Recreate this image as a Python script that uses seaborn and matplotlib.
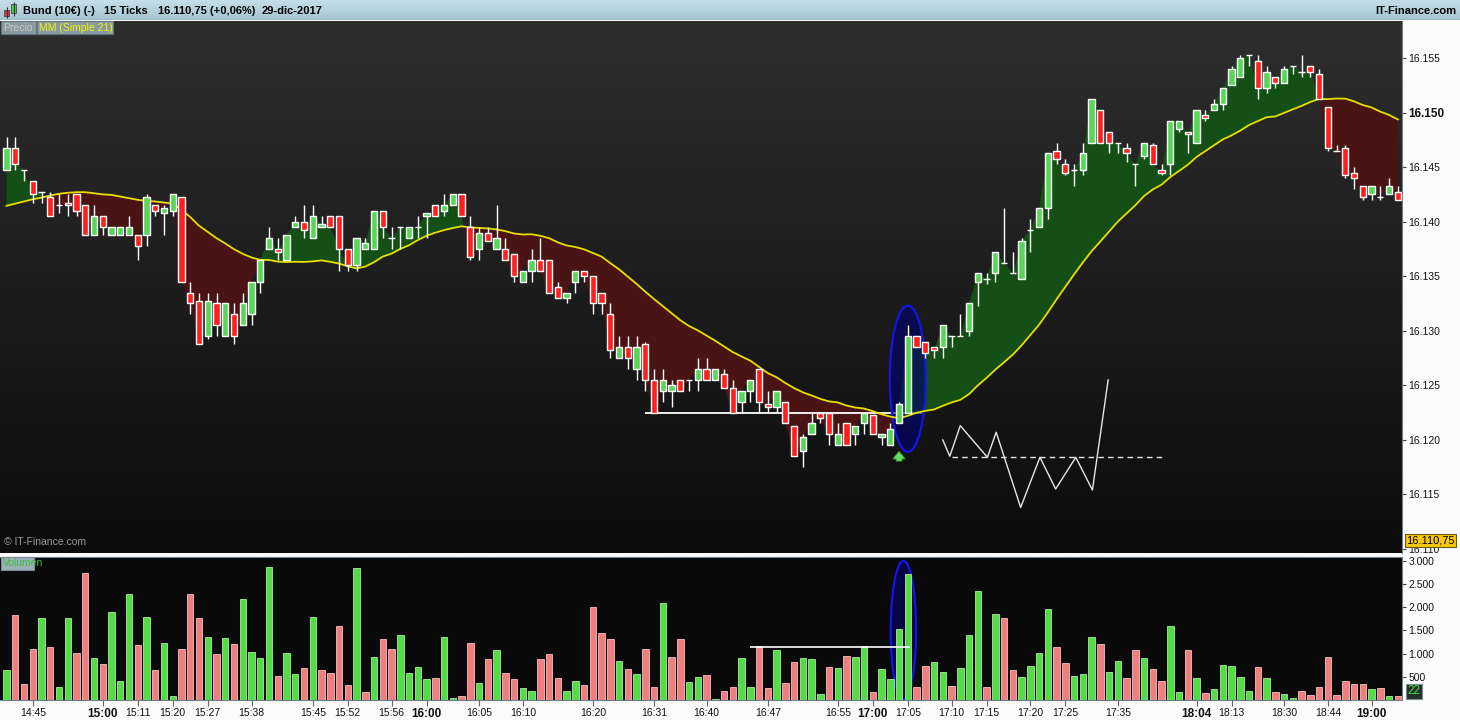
import numpy as np
import pandas as pd
import matplotlib
matplotlib.use("Agg")
import matplotlib.pyplot as plt
import seaborn as sns
from matplotlib.patches import Ellipse, Rectangle
from matplotlib.colors import LinearSegmentedColormap
import matplotlib.transforms as mtrans

plt.rcParams['font.family'] = ['Liberation Sans', 'DejaVu Sans']

# ---------------- data ----------------
opens = [16144.75, 16146.75, 16144.75, 16143.75, 16142.75, 16142.25, 16141.5, 16141.75, 16142.5, 16141.5,
         16138.75, 16140.5, 16138.75, 16138.75, 16138.75, 16138.75, 16138.75, 16141.5, 16140.75, 16141.0,
         16142.25, 16133.5, 16132.75, 16129.5, 16132.5, 16129.5, 16131.5, 16130.5, 16131.5, 16134.5,
         16137.5, 16137.5, 16136.5, 16139.5, 16140.0, 16138.5, 16139.5, 16140.5, 16140.5, 16137.5,
         16136.0, 16137.5, 16137.5, 16141.0, 16138.5, 16139.5, 16138.5, 16139.5, 16140.5, 16141.5,
         16141.0, 16141.5, 16142.5, 16139.5, 16137.5, 16139.0, 16137.5, 16137.5, 16137.0, 16134.5,
         16135.5, 16136.5, 16136.5, 16134.0, 16133.0, 16134.5, 16135.5, 16135.0, 16133.5, 16131.5,
         16127.5, 16128.5, 16126.5, 16128.75, 16125.5, 16124.5, 16124.5, 16125.5, 16125.5, 16125.5,
         16126.5, 16125.5, 16126.0, 16124.75, 16123.5, 16124.5, 16126.5, 16123.25, 16123.0, 16123.5,
         16121.25, 16119.0, 16120.5, 16122.5, 16122.5, 16119.5, 16121.5, 16120.5, 16121.5, 16122.25,
         16120.25, 16119.5, 16121.5, 16122.5, 16129.5, 16129.0, 16128.5, 16128.5, 16129.5, 16129.5,
         16130.0, 16134.5, 16134.75, 16135.25, 16136.25, 16135.25, 16134.75, 16139.25, 16139.5, 16141.25,
         16146.5, 16145.25, 16144.75, 16144.75, 16147.25, 16150.25, 16148.25, 16147.25, 16146.75, 16145.25,
         16146.0, 16147.0, 16144.75, 16145.25, 16148.5, 16148.25, 16147.25, 16149.75, 16150.25, 16150.75,
         16152.5, 16153.25, 16155.25, 16154.75, 16152.25, 16153.25, 16152.75, 16154.25, 16153.75, 16154.25,
         16153.5, 16150.5, 16146.5, 16146.75, 16144.5, 16143.25, 16142.5, 16142.25, 16142.5, 16142.75]

highs = [16147.75, 16147.75, 16144.75, 16143.75, 16142.75, 16142.75, 16142.5, 16142.5, 16142.5, 16141.5,
         16141.5, 16140.5, 16139.5, 16139.5, 16140.5, 16138.75, 16142.5, 16141.5, 16141.5, 16142.5,
         16142.25, 16134.5, 16133.5, 16133.5, 16133.5, 16132.5, 16132.5, 16133.5, 16134.5, 16136.5,
         16139.5, 16138.5, 16138.75, 16140.5, 16141.5, 16141.5, 16140.5, 16140.5, 16140.5, 16137.5,
         16138.5, 16138.5, 16141.0, 16141.0, 16139.5, 16139.5, 16139.5, 16140.5, 16140.75, 16141.5,
         16142.5, 16142.5, 16142.5, 16140.5, 16139.5, 16139.5, 16141.5, 16138.5, 16137.0, 16135.5,
         16137.5, 16138.5, 16136.5, 16134.5, 16133.5, 16135.5, 16135.5, 16135.0, 16133.5, 16132.5,
         16129.5, 16129.5, 16129.5, 16129.0, 16126.5, 16126.5, 16125.5, 16125.5, 16125.5, 16127.5,
         16127.5, 16126.5, 16126.5, 16125.5, 16124.5, 16125.5, 16126.5, 16124.5, 16124.5, 16123.5,
         16121.25, 16120.5, 16122.5, 16122.5, 16122.5, 16121.5, 16121.5, 16121.25, 16122.5, 16122.25,
         16120.5, 16121.5, 16123.5, 16130.5, 16129.5, 16129.0, 16128.5, 16130.5, 16129.5, 16131.5,
         16132.5, 16135.25, 16135.25, 16137.25, 16141.25, 16137.25, 16138.5, 16140.25, 16141.25, 16146.25,
         16147.25, 16145.75, 16145.25, 16147.25, 16151.25, 16150.25, 16148.25, 16147.25, 16147.25, 16145.25,
         16147.25, 16147.25, 16145.25, 16149.25, 16149.25, 16148.25, 16150.25, 16150.25, 16151.25, 16152.25,
         16154.25, 16155.25, 16155.25, 16155.25, 16154.25, 16153.25, 16154.25, 16154.25, 16155.25, 16154.25,
         16154.0, 16150.5, 16147.0, 16147.0, 16145.0, 16143.25, 16143.25, 16143.25, 16144.0, 16143.25]

lows = [16144.75, 16144.75, 16143.75, 16141.75, 16141.75, 16140.5, 16140.75, 16140.5, 16140.5, 16138.75,
        16138.75, 16138.75, 16138.75, 16138.75, 16138.75, 16136.5, 16137.75, 16140.5, 16138.75, 16140.5,
        16134.5, 16131.5, 16128.75, 16129.25, 16129.5, 16129.5, 16128.75, 16130.5, 16130.5, 16133.5,
        16137.5, 16136.5, 16136.5, 16139.5, 16138.5, 16138.5, 16139.5, 16139.5, 16135.5, 16135.5,
        16135.5, 16137.5, 16137.5, 16138.5, 16137.5, 16137.5, 16138.5, 16138.5, 16138.5, 16140.5,
        16140.5, 16141.5, 16140.5, 16136.5, 16136.5, 16138.25, 16137.5, 16136.5, 16134.5, 16134.5,
        16134.5, 16135.5, 16133.5, 16133.0, 16132.5, 16133.5, 16134.5, 16131.5, 16131.5, 16127.5,
        16127.5, 16126.5, 16125.5, 16124.5, 16122.5, 16123.5, 16123.0, 16124.5, 16124.5, 16124.5,
        16125.5, 16125.5, 16124.75, 16122.5, 16122.5, 16123.5, 16122.5, 16122.5, 16122.5, 16121.5,
        16118.5, 16117.5, 16120.5, 16121.5, 16119.5, 16119.5, 16119.5, 16119.5, 16120.5, 16120.5,
        16119.5, 16119.5, 16121.5, 16122.5, 16128.5, 16127.5, 16127.5, 16127.5, 16128.5, 16129.5,
        16129.5, 16132.25, 16134.25, 16134.5, 16136.25, 16135.25, 16134.75, 16137.25, 16139.5, 16140.25,
        16145.25, 16144.25, 16143.25, 16144.25, 16147.25, 16147.25, 16146.25, 16146.25, 16145.5, 16143.25,
        16145.75, 16145.25, 16144.25, 16144.25, 16148.25, 16146.25, 16147.25, 16149.25, 16150.25, 16150.25,
        16152.5, 16153.25, 16154.25, 16151.25, 16151.75, 16152.25, 16152.75, 16153.5, 16153.25, 16153.25,
        16151.25, 16146.5, 16146.5, 16144.0, 16143.0, 16142.0, 16142.0, 16142.0, 16142.5, 16142.0]

closes = [16146.75, 16145.25, 16144.75, 16142.5, 16142.75, 16140.5, 16141.5, 16141.5, 16141.0, 16138.75,
          16140.5, 16139.5, 16139.5, 16139.5, 16139.5, 16137.75, 16142.25, 16141.0, 16141.25, 16142.5,
          16134.5, 16132.5, 16128.75, 16132.75, 16130.5, 16132.5, 16129.5, 16132.5, 16134.5, 16136.5,
          16138.5, 16137.25, 16138.75, 16140.0, 16139.25, 16140.5, 16139.75, 16139.5, 16137.5, 16136.0,
          16138.5, 16138.0, 16141.0, 16139.5, 16138.5, 16139.5, 16139.5, 16139.5, 16140.75, 16140.5,
          16141.5, 16142.5, 16140.5, 16136.75, 16139.0, 16138.25, 16138.5, 16136.5, 16135.0, 16135.5,
          16136.5, 16135.5, 16133.5, 16133.0, 16133.5, 16135.5, 16135.0, 16132.5, 16132.5, 16128.25,
          16128.5, 16127.5, 16128.5, 16125.5, 16122.5, 16125.5, 16125.0, 16124.5, 16125.5, 16126.5,
          16125.5, 16126.5, 16124.75, 16122.5, 16124.5, 16125.5, 16123.5, 16123.0, 16124.5, 16121.5,
          16118.5, 16120.25, 16121.5, 16122.0, 16120.5, 16120.5, 16119.5, 16121.25, 16122.5, 16120.5,
          16120.5, 16121.0, 16123.25, 16129.5, 16128.5, 16128.0, 16128.25, 16130.5, 16129.5, 16129.5,
          16132.5, 16135.25, 16134.75, 16137.25, 16136.25, 16135.25, 16138.25, 16139.25, 16141.25, 16146.25,
          16145.75, 16144.5, 16144.75, 16146.25, 16151.25, 16147.25, 16147.25, 16147.25, 16146.25, 16145.25,
          16147.25, 16145.25, 16144.5, 16149.25, 16149.25, 16148.0, 16150.25, 16149.5, 16150.75, 16152.25,
          16154.0, 16155.0, 16155.25, 16152.25, 16153.75, 16152.75, 16154.0, 16154.25, 16153.75, 16153.75,
          16151.25, 16146.75, 16146.5, 16144.25, 16144.0, 16142.25, 16143.25, 16142.25, 16143.25, 16142.0]

volumes = [640, 1840, 340, 1090, 1780, 1140, 280, 1780, 1010, 2740,
           900, 770, 1890, 410, 2290, 1180, 1800, 640, 1220, 90,
           1090, 2290, 1780, 1350, 990, 1330, 1200, 2190, 1030, 900,
           2870, 510, 1010, 560, 690, 1800, 640, 580, 1590, 320,
           2850, 170, 920, 1310, 1090, 1410, 580, 710, 450, 470,
           1370, 40, 90, 1220, 360, 880, 1070, 580, 450, 260,
           190, 880, 990, 470, 190, 410, 320, 2010, 1440, 1310,
           840, 660, 560, 1110, 280, 2100, 920, 1310, 390, 490,
           540, 20, 190, 280, 900, 280, 1160, 260, 1070, 360,
           810, 900, 880, 130, 710, 690, 940, 920, 1160, 170,
           660, 450, 1540, 2720, 280, 730, 810, 600, 300, 690,
           1410, 2360, 280, 1860, 1780, 640, 490, 730, 1010, 1970,
           1140, 790, 510, 560, 1350, 1200, 600, 840, 470, 1070,
           900, 660, 410, 1590, 170, 1070, 470, 150, 240, 750,
           730, 490, 190, 710, 470, 170, 130, 40, 190, 110,
           280, 920, 110, 410, 340, 340, 240, 260, 90, 90]

vol_dir = list("GRRRGRGGRR" "GRGGGRGRGG" "RRRGRGRGGG" "GRGGRGRRRR" "GRGRRGGGGR"
               "GGRRGRGRRG" "GRRRGGRRRR" "GRGRRGRRGG" "RGR"
               "RGGRRGRRGG" "GRGRGGRGGG" "GRRGGRGGGR" "GRRGGGGRRG" "GGRGGRRGRR"
               "GGRGRGGGGG" "RGRGGRRRRR" "RRRGRGR")

# first 20 values of the 21-period moving average as drawn (earlier history not shown)
ma_head = [16141.45, 16141.65, 16141.85, 16142.05, 16142.2, 16142.4, 16142.55, 16142.65, 16142.7, 16142.7,
           16142.6, 16142.5, 16142.45, 16142.3, 16142.15, 16142.0, 16141.9, 16141.85, 16141.75, 16141.65]

time_pos = [3, 11, 15, 19, 23, 28, 35, 39, 44, 48, 54, 59, 67, 74, 80, 87, 95, 99, 103,
            108, 112, 117, 121, 127, 136, 140, 146, 151, 156]
time_labels = ["14:45", "15:00", "15:11", "15:20", "15:27", "15:38", "15:45", "15:52", "15:56",
               "16:00", "16:05", "16:10", "16:20", "16:31", "16:40", "16:47", "16:55", "17:00",
               "17:05", "17:10", "17:15", "17:20", "17:25", "17:35", "18:04", "18:13", "18:30",
               "18:44", "19:00"]
bold_labels = {"15:00", "16:00", "17:00", "18:04", "19:00"}

price_ticks = [16110, 16115, 16120, 16125, 16130, 16135, 16140, 16145, 16150, 16155]
vol_ticks = [500, 1000, 1500, 2000, 2500, 3000]

support_price = 16122.43
support_vol = 1140
zz_x = [107.0, 107.8, 109.0, 112.1, 113.1, 115.9, 118.1, 119.9, 122.2, 124.1, 125.9]
zz_y = [16120.0, 16118.5, 16121.3, 16118.4, 16120.7, 16113.8, 16118.4, 16115.5, 16118.4, 16115.4, 16125.5]
zz_level = 16118.43

# ---------------- derived ----------------
n = len(closes)
idx = np.arange(n)
o = np.array(opens); h = np.array(highs); l = np.array(lows); c = np.array(closes)
ma = pd.Series(c).rolling(21).mean().to_numpy()
ma[:20] = ma_head

W, H = 1460, 720
fig = plt.figure(figsize=(14.6, 7.2), dpi=100, facecolor='#fbfbfb')


def px_axes(x0, y0, x1, y1):
    return fig.add_axes([x0 / W, 1 - y1 / H, (x1 - x0) / W, (y1 - y0) / H])


def fmt_thousands(v):
    return f"{int(round(v)):,}".replace(",", ".")


XL = (-0.743, 159.48)

# ---------------- header ----------------
ax_h = px_axes(0, 0, W, 20)
hcm = LinearSegmentedColormap.from_list('h', ['#c4dee9', '#a6c5d1'])
ax_h.imshow(np.linspace(0, 1, 20)[:, None], cmap=hcm, aspect='auto', extent=[0, W, 20, 0])
ax_h.set_xlim(0, W); ax_h.set_ylim(20, 0); ax_h.axis('off')
ax_h.axhline(19.5, color='#6d8490', lw=1)
ax_h.vlines([6.5], 7, 18, color='#333333', lw=0.8)
ax_h.add_patch(Rectangle((4, 10), 5, 6, fc='#e83a3a', ec='#444444', lw=0.6))
ax_h.vlines([13.5], 2, 16, color='#333333', lw=0.8)
ax_h.add_patch(Rectangle((11, 4), 5, 9, fc='#44d044', ec='#444444', lw=0.6))
for x0, s in [(23, "Bund (10€) (-)"), (104, "15 Ticks"), (158, "16.110,75 (+0,06%)"), (262, "29-dic-2017")]:
    ax_h.text(x0, 11, s, fontsize=8, fontweight='bold', color='black', va='center', ha='left')
ax_h.text(1456, 11, "IT-Finance.com", fontsize=8, fontweight='bold', color='black', va='center', ha='right')

# ---------------- price panel ----------------
ax_p = px_axes(0, 21, 1402, 553)
pcm = LinearSegmentedColormap.from_list('p', ['#2e2e2e', '#0c0c0c'])
ax_p.imshow(np.linspace(0, 1, 256)[:, None], cmap=pcm, aspect='auto', extent=[0, 1, 0, 1],
            transform=ax_p.transAxes, zorder=0)

ax_p.fill_between(idx, c, ma, where=c >= ma, interpolate=True, color='#144f15', lw=0, zorder=1)
ax_p.fill_between(idx, c, ma, where=c < ma, interpolate=True, color='#4a1414', lw=0, zorder=1)

ax_p.hlines(support_price, 73, 104.6, color='white', lw=1.3, zorder=2)
ax_p.add_patch(Ellipse((103.0, 16125.6), 4.1, 13.4, fc=(0.0, 0.0, 0.45, 0.6), ec='#1414f0', lw=1.5, zorder=3))

sns.lineplot(x=idx, y=ma, color='#e6df00', lw=1.3, ax=ax_p, zorder=4)

ax_p.vlines(idx, l, h, color='white', lw=1.0, zorder=5)
body_col = np.where(c > o, '#59d659', np.where(c < o, '#ff1f1f', '#ffffff'))
ax_p.bar(idx, np.abs(c - o), bottom=np.minimum(o, c), width=0.72, color=body_col,
         edgecolor='white', linewidth=1.0, zorder=6)

ax_p.annotate("", xy=(102.0, 16119.2), xytext=(102.0, 16117.8),
              arrowprops=dict(arrowstyle="simple,head_length=0.55,head_width=0.9,tail_width=0.42",
                              fc='#5ee05e', ec='#3a9a3a', lw=0.5), zorder=7)
ax_p.plot(zz_x, zz_y, color='#e6e6e6', lw=1.0, zorder=7)
ax_p.hlines(zz_level, 108.0, 132.1, color='#e6e6e6', lw=1.0, linestyles=(0, (4, 3)), zorder=7)

ax_p.set_xlim(*XL)
ax_p.set_ylim(16109.63, 16158.39)
ax_p.set_xticks([])
ax_p.set_xlabel(""); ax_p.set_ylabel("")
ax_p.yaxis.tick_right()
labs = ax_p.set_yticks(price_ticks, [fmt_thousands(v) for v in price_ticks])
for t, v in zip(ax_p.get_yticklabels(), price_ticks):
    t.set_fontsize(8.5 if v == 16150 else 7.5)
    if v == 16150:
        t.set_fontweight('bold')
ax_p.tick_params(axis='y', length=3, width=0.8, color='#444444', labelcolor='#111111', pad=1.5)
ax_p.grid(False)
for side in ['top', 'left', 'bottom']:
    ax_p.spines[side].set_visible(False)
ax_p.spines['right'].set_color('#6f808a')

ax_p.text(4 / 1402, 0.012, "© IT-Finance.com", transform=ax_p.transAxes, fontsize=7.5,
          color='#9a9a9a', ha='left', va='bottom', zorder=8)
trans_p = mtrans.blended_transform_factory(ax_p.transAxes, ax_p.transData)
ax_p.text(1.003, 16110.75, "16.110,75", transform=trans_p, ha='left', va='center', fontsize=8,
          color='black', clip_on=False, zorder=10,
          bbox=dict(boxstyle='square,pad=0.12', fc='#f7c70c', ec='#6a5a18', lw=0.8))

# tabs
def fig_rect(x0, y0, x1, y1, fc, ec):
    fig.add_artist(Rectangle((x0 / W, 1 - y1 / H), (x1 - x0) / W, (y1 - y0) / H, fc=fc, ec=ec, lw=0.8,
                             transform=fig.transFigure, zorder=20))

fig_rect(1, 21, 36, 34, '#8a9aa2', '#66767e')
fig_rect(37, 21, 113, 34, '#8a9aa2', '#66767e')
fig.text(3 / W, 1 - 28 / H, "Precio", fontsize=7.5, color='#c3cacd', va='center', ha='left', zorder=21)
fig.text(39 / W, 1 - 28 / H, "MM (Simple 21)", fontsize=7.5, color='#f4f400', va='center', ha='left', zorder=21)

# ---------------- volume panel ----------------
ax_v = px_axes(0, 557, 1402, 700)
ax_v.set_facecolor('#0a0a0a')
ax_v.add_patch(Ellipse((102.5, 1505), 2.9, 2990, fc=(0.0, 0.0, 0.42, 0.6), ec='#1414f0', lw=1.5, zorder=0.5))
vdf = pd.DataFrame({"i": idx, "vol": volumes, "dir": vol_dir})
sns.barplot(data=vdf, x="i", y="vol", hue="dir", palette={"G": "#55db45", "R": "#ee7f7f"},
            native_scale=True, dodge=False, width=0.74, errorbar=None, saturation=1,
            legend=False, ax=ax_v)
for p in ax_v.patches:
    if isinstance(p, Ellipse):
        continue
    fc = p.get_facecolor()
    p.set_edgecolor(tuple(min(1, ch * 0.5 + 0.5) for ch in fc[:3]))
    p.set_linewidth(0.6)
    p.set_zorder(2)
ax_v.hlines(support_vol, 85, 103.2, color='white', lw=1.2, zorder=3)

ax_v.set_xlim(*XL)
ax_v.set_ylim(0, 3086)
ax_v.set_xlabel(""); ax_v.set_ylabel("")
ax_v.grid(False)
ax_v.yaxis.tick_right()
ax_v.set_yticks(vol_ticks, [fmt_thousands(v) for v in vol_ticks])
ax_v.tick_params(axis='y', length=3, width=0.8, color='#444444', labelcolor='#111111', labelsize=7.5, pad=1.5)
ax_v.set_xticks(time_pos, time_labels)
for t, s in zip(ax_v.get_xticklabels(), time_labels):
    if s in bold_labels:
        t.set_fontweight('bold'); t.set_fontsize(8.5)
    else:
        t.set_fontsize(7.5)
ax_v.tick_params(axis='x', length=4, width=0.8, color='#666666', labelcolor='#111111', pad=2)
for side in ['top', 'left']:
    ax_v.spines[side].set_visible(False)
ax_v.spines['right'].set_color('#6f808a')
ax_v.spines['bottom'].set_color('#6f808a')
ax_v.spines['top'].set_visible(True); ax_v.spines['top'].set_color('#70808a')

trans_v = mtrans.blended_transform_factory(ax_v.transAxes, ax_v.transData)
ax_v.text(1.004, 190, "22", transform=trans_v, ha='left', va='center', fontsize=8.5, color='#3fdf3f',
          clip_on=False, zorder=10, bbox=dict(boxstyle='square,pad=0.12', fc='#26302b', ec='#7a8a90', lw=0.8))

fig_rect(1, 557, 34, 570, '#9db0b8', '#7a8d95')
fig.text(3 / W, 1 - 563.5 / H, "Volumen", fontsize=7.5, color='#3dbd3d', va='center', ha='left', zorder=21)

fig.savefig("out.png", dpi=100, facecolor=fig.get_facecolor())
